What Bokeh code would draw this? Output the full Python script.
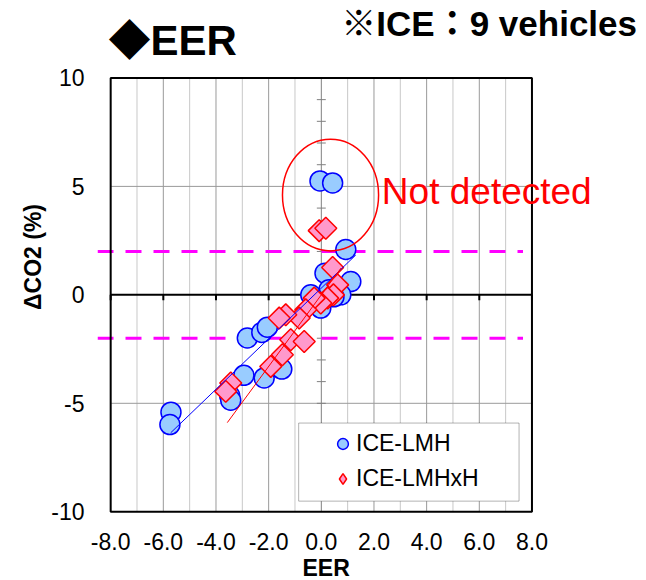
from bokeh.plotting import figure
from bokeh.models import (Label, Legend, LegendItem, BoxAnnotation, FixedTicker,
                          Range1d, Title)
from bokeh.embed import file_html
from bokeh.resources import INLINE
import numpy as np

# ---- data -------------------------------------------------------------
# ICE-LMH: EER vs. delta CO2 (%)
lmh_eer = [-0.05, 0.43, 0.93, 1.12, 0.14, 0.29, 0.74, 0.48, -0.40, -0.02,
           -2.81, -2.26, -2.05, -2.94, -2.17, -1.50, -3.48, -3.44, -5.71, -5.75]
lmh_dco2 = [5.25, 5.16, 2.09, 0.61, 1.00, 0.23, 0.00, -0.09, 0.00, -0.61,
            -1.99, -1.73, -1.49, -3.71, -3.83, -3.42, -4.64, -4.86, -5.41, -5.98]

# ICE-LMHxH
lmhxh_eer = [-0.08, 0.17, 0.43, 0.62, 0.46, 0.24, -0.02, -0.27, -0.59, -0.84,
             -1.35, -1.60, -1.16, -0.65, -1.48, -1.92, -3.44, -3.63]
lmhxh_dco2 = [2.96, 3.07, 1.26, 0.46, 0.00, -0.15, -0.38, -0.15, -0.69, -1.07,
              -0.92, -1.07, -2.07, -2.15, -2.76, -3.30, -4.06, -4.45]

# linear trend lines: slope, intercept, x start, x end
lmh_fit = (1.166, 0.31, -5.72, 1.31)
lmhxh_fit = (1.65, 0.0, -3.57, 0.75)

# detection thresholds (+/- 2 %)
thresholds = [2.0, -2.0]

x_ticks = [-8, -6, -4, -2, 0, 2, 4, 6, 8]
x_tick_labels = ["-8.0", "-6.0", "-4.0", "-2.0", "0.0", "2.0", "4.0", "6.0", "8.0"]
y_ticks = [-10, -5, 0, 5, 10]
y_tick_labels = ["-10", "-5", "0", "5", "10"]

FONT = "Liberation Sans, Arial, Noto Sans CJK JP, sans-serif"

X0, X1 = x_ticks[0], x_ticks[-1]
Y0, Y1 = y_ticks[0], y_ticks[-1]

# the frame reaches the right and top edges of the canvas so that the
# headings and the callout text can sit outside the drawn plot box
p = figure(width=646, height=580,
           x_range=Range1d(-8.5, 12.35), y_range=Range1d(-10.08, 13.57),
           output_backend="svg", toolbar_location=None,
           min_border_left=97, min_border_right=0,
           min_border_top=0, min_border_bottom=66)
p.outline_line_color = None
p.xgrid.visible = False
p.ygrid.visible = False
p.background_fill_color = "white"
p.border_fill_color = "white"

# ---- axes (labels only; lines are drawn inside the box) ---------------
for ax in (p.xaxis[0], p.yaxis[0]):
    ax.axis_line_color = None
    ax.major_tick_line_color = None
    ax.minor_tick_line_color = None
    ax.major_label_text_font = FONT
    ax.major_label_text_font_size = "23px"
    ax.major_label_text_color = "black"
    ax.axis_label_text_font = FONT
    ax.axis_label_text_font_size = "23px"
    ax.axis_label_text_font_style = "bold"
    ax.axis_label_text_color = "black"

p.xaxis.ticker = FixedTicker(ticks=x_ticks)
p.xaxis.major_label_overrides = {t: s for t, s in zip(x_ticks, x_tick_labels)}
p.xaxis.major_label_standoff = 13
# x-axis title sits under the tick labels, centred on the plot box
p.add_layout(Title(text="EER", align="left", offset=205, standoff=0,
                   text_font=FONT, text_font_size="23px",
                   text_font_style="bold", text_color="black"), "below")

p.yaxis.ticker = FixedTicker(ticks=y_ticks)
p.yaxis.major_label_overrides = {t: s for t, s in zip(y_ticks, y_tick_labels)}
p.yaxis.axis_label = "ΔCO2 (%)"
p.yaxis.major_label_standoff = 7
p.yaxis.axis_label_standoff = 2

# ---- grid -------------------------------------------------------------
grid_x = np.arange(X0, X1 + 1)
minor_x = [g for g in grid_x if g % 2 != 0]
major_x = [g for g in grid_x if g % 2 == 0 and g != 0]
p.segment(x0=minor_x, y0=Y0, x1=minor_x, y1=Y1, line_color="#c8c8c8", line_width=1)
p.segment(x0=major_x, y0=Y0, x1=major_x, y1=Y1, line_color="#9a9a9a", line_width=1)
grid_y = [t for t in y_ticks if t not in (Y0, Y1, 0)]
p.segment(x0=X0, y0=grid_y, x1=X1, y1=grid_y, line_color="#9a9a9a", line_width=1)

# vertical axis through x = 0 with small ticks at every unit
p.segment(x0=0, y0=Y0, x1=0, y1=Y1, line_color="#808080", line_width=1)
y_minor = np.arange(Y0 + 1, Y1)
p.segment(x0=-0.17, y0=y_minor, x1=0.17, y1=y_minor, line_color="#808080", line_width=1)

# threshold lines
p.segment(x0=-8.5, y0=thresholds, x1=7.66, y1=thresholds,
          line_color="#ff00ff", line_width=3, line_dash="16 12")

# horizontal axis through y = 0 with ticks below it
p.segment(x0=X0, y0=0, x1=X1, y1=0, line_color="black", line_width=2)
p.segment(x0=x_ticks, y0=0, x1=x_ticks, y1=-0.25, line_color="black", line_width=2)

# plot box
p.quad(left=X0, right=X1, bottom=Y0, top=Y1, fill_color=None,
       line_color="black", line_width=2)

# ---- series -----------------------------------------------------------
LMH_STYLE = dict(fill_color="#99ccff", line_color="#0000ff", line_width=1.5)
LMHXH_STYLE = dict(fill_color="#ff99cc", line_color="#ff0000", line_width=1.5)

r_lmh = p.scatter(lmh_eer, lmh_dco2, marker="circle", size=20, **LMH_STYLE)
p.scatter(lmhxh_eer, lmhxh_dco2, marker="square", angle=np.pi / 4,
          size=15.5, **LMHXH_STYLE)

for (slope, icpt, xa, xb), col in ((lmh_fit, "#0000ff"), (lmhxh_fit, "#ff0000")):
    xs = [xa, xb]
    p.line(xs, [slope * v + icpt for v in xs], line_color=col, line_width=1)

# "not detected" region
p.ellipse(x=0.35, y=4.60, width=3.65, height=5.15, fill_color=None,
          line_color="#ff0000", line_width=1.5)
p.add_layout(Label(x=2.30, y=4.76, text="Not detected", text_font=FONT,
                   text_font_size="37px", text_color="#ff0000",
                   text_baseline="alphabetic"))

# ---- headings ---------------------------------------------------------
p.add_layout(Label(x=-8.08, y=11.72, text="◆EER", text_font=FONT,
                   text_font_size="42px", text_font_style="bold",
                   text_color="black", text_baseline="alphabetic"))
p.add_layout(Label(x=0.76, y=12.50, text="※ICE：9 vehicles", text_font=FONT,
                   text_font_size="35px", text_font_style="bold",
                   text_color="black", text_baseline="alphabetic"))

# ---- legend -----------------------------------------------------------
# upright diamond swatch for the key (a single undrawn NaN point)
key_lmhxh = p.scatter([np.nan], [np.nan], marker="diamond", **LMHXH_STYLE)

p.add_layout(BoxAnnotation(left=-0.86, right=7.51, bottom=-9.51, top=-5.91,
                           fill_color="white", fill_alpha=1.0,
                           line_color="black", line_width=1))
legend = Legend(items=[LegendItem(label="ICE-LMH", renderers=[r_lmh]),
                       LegendItem(label="ICE-LMHxH", renderers=[key_lmhxh])],
                location=(232, 21), border_line_color=None,
                background_fill_alpha=0, padding=0, spacing=8,
                glyph_width=27, glyph_height=27, label_standoff=0,
                label_text_font=FONT, label_text_font_size="23px",
                label_text_color="black")
p.add_layout(legend, "center")

open("out.html", "w").write(file_html(p, INLINE))
